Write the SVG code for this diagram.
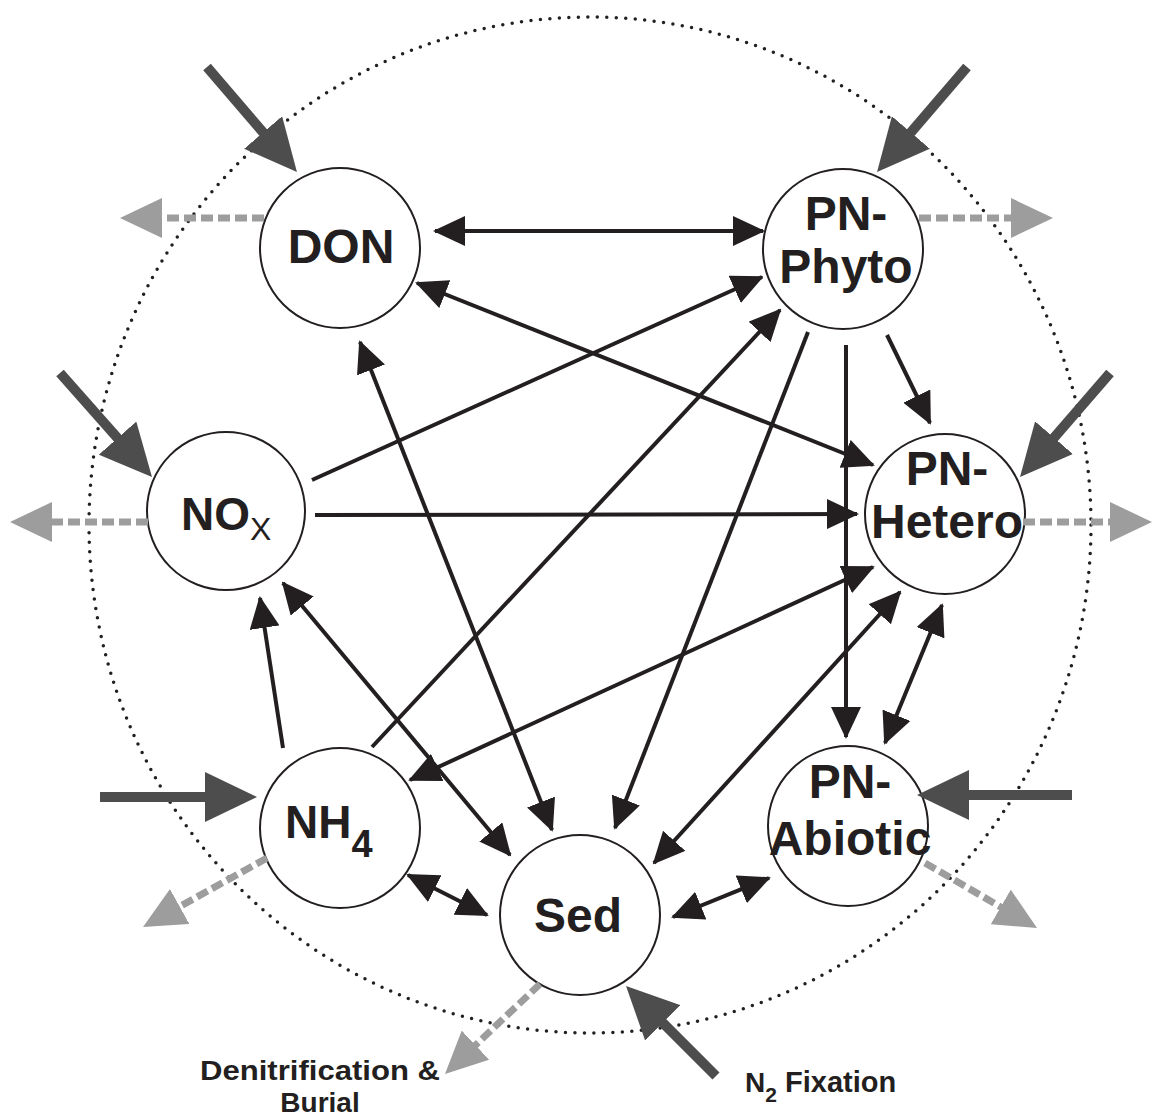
<svg xmlns="http://www.w3.org/2000/svg" width="1154" height="1119" viewBox="0 0 1154 1119">
<style>
.node circle{fill:#fff;stroke:#231f20;stroke-width:2}
.lbl{font-family:"Liberation Sans",Arial,sans-serif;font-weight:bold;font-size:48px;fill:#231f20;text-anchor:middle}
.cap{font-family:"Liberation Sans",Arial,sans-serif;font-weight:bold;font-size:28px;fill:#231f20}
.c{stroke:#231f20;stroke-width:4;fill:none;marker-end:url(#ah)}
.d{marker-start:url(#ah)}
.in{stroke:#4d4d4d;stroke-width:10;fill:none;marker-end:url(#ih)}
.out{stroke:#9d9d9d;stroke-width:7;stroke-dasharray:12 5;fill:none;marker-end:url(#oh)}
.boundary{fill:none;stroke:#231f20;stroke-width:3.5;stroke-dasharray:0 9.5;stroke-linecap:round}
</style>
<defs>
<marker id="ah" markerUnits="userSpaceOnUse" viewBox="0 0 32 30" markerWidth="32" markerHeight="30" refX="30" refY="15" orient="auto-start-reverse"><path d="M0,0L32,15L0,30z" fill="#231f20"/></marker>
<marker id="ih" markerUnits="userSpaceOnUse" viewBox="0 0 52 50" markerWidth="52" markerHeight="50" refX="41" refY="25" orient="auto"><path d="M0,0L52,25L0,50z" fill="#4d4d4d"/></marker>
<marker id="oh" markerUnits="userSpaceOnUse" viewBox="0 0 42 40" markerWidth="42" markerHeight="40" refX="34" refY="20" orient="auto"><path d="M0,0L42,20L0,40z" fill="#9d9d9d"/></marker>
</defs>
<rect width="1154" height="1119" fill="#fff"/>
<ellipse class="boundary" cx="590" cy="525" rx="501" ry="508"/>

<g id="nodes">
<g id="DON" class="node"><circle cx="340" cy="248" r="80"/><text class="lbl" x="341" y="263">DON</text></g>
<g id="PN-Phyto" class="node"><circle cx="843" cy="249" r="80"/><text class="lbl" x="846" y="230">PN-</text><text class="lbl" x="846" y="283">Phyto</text></g>
<g id="NOx" class="node"><circle cx="226" cy="511" r="79"/><text class="lbl" x="181" y="530" style="text-anchor:start;font-size:46px">NO<tspan dy="10" style="font-size:32px;font-weight:normal">X</tspan></text></g>
<g id="PN-Hetero" class="node"><circle cx="945" cy="514" r="80"/><text class="lbl" x="947" y="485">PN-</text><text class="lbl" x="947" y="538">Hetero</text></g>
<g id="NH4" class="node"><circle cx="340" cy="828" r="80"/><text class="lbl" x="285" y="838" style="text-anchor:start;font-size:46px">NH<tspan dy="19" style="font-size:38px">4</tspan></text></g>
<g id="Sed" class="node"><circle cx="580" cy="915" r="80"/><text class="lbl" x="578" y="932">Sed</text></g>
<g id="PN-Abiotic" class="node"><circle cx="848" cy="826" r="80"/><text class="lbl" x="850" y="798">PN-</text><text class="lbl" x="850" y="855">Abiotic</text></g>
</g>

<g id="connectors">
<line class="c d" x1="435" y1="231" x2="763" y2="231"/>
<line class="c d" x1="417" y1="283" x2="873" y2="465"/>
<line class="c" x1="312" y1="480" x2="762" y2="277"/>
<line class="c" x1="315" y1="515" x2="857" y2="514"/>
<line class="c" x1="372" y1="747" x2="780" y2="310"/>
<line class="c d" x1="410" y1="780" x2="873" y2="567"/>
<line class="c d" x1="360" y1="342" x2="552" y2="830"/>
<line class="c d" x1="283" y1="583" x2="510" y2="855"/>
<line class="c" x1="283" y1="748" x2="260" y2="598"/>
<line class="c d" x1="408" y1="875" x2="487" y2="915"/>
<line class="c d" x1="673" y1="917" x2="769" y2="878"/>
<line class="c" x1="808" y1="332" x2="615" y2="828"/>
<line class="c d" x1="900" y1="592" x2="654" y2="863"/>
<line class="c" x1="887" y1="335" x2="930" y2="423"/>
<line class="c" x1="846" y1="345" x2="846" y2="737"/>
<line class="c d" x1="942" y1="605" x2="885" y2="743"/>

<line class="in" x1="207" y1="67" x2="289.8" y2="163.6"/>
<line class="in" x1="967" y1="67" x2="884.2" y2="163.6"/>
<line class="in" x1="60" y1="373" x2="144.7" y2="468.8"/>
<line class="in" x1="1110" y1="373" x2="1027.2" y2="468.7"/>
<line class="in" x1="100" y1="797" x2="246" y2="797"/>
<line class="in" x1="1072" y1="795" x2="928" y2="795"/>
<line class="in" x1="716" y1="1076" x2="633.8" y2="993.8"/>

<line class="out" x1="264" y1="218" x2="128" y2="218"/>
<line class="out" x1="919" y1="218" x2="1045" y2="218"/>
<line class="out" x1="148" y1="522" x2="18" y2="522"/>
<line class="out" x1="1023" y1="522" x2="1144" y2="522"/>
<line class="out" x1="267" y1="858" x2="150" y2="923.1"/>
<line class="out" x1="925" y1="863" x2="1030.1" y2="924"/>
<line class="out" x1="540" y1="984" x2="450.8" y2="1068.5"/>
</g>

<g id="labels">
<text class="cap" x="320" y="1080" text-anchor="middle" textLength="240" lengthAdjust="spacingAndGlyphs">Denitrification &amp;</text>
<text class="cap" x="320" y="1112" text-anchor="middle">Burial</text>
<text class="cap" x="745" y="1092">N<tspan dy="10" style="font-size:21px">2</tspan><tspan dy="-10" style="font-size:29px"> Fixation</tspan></text>
</g>
</svg>
